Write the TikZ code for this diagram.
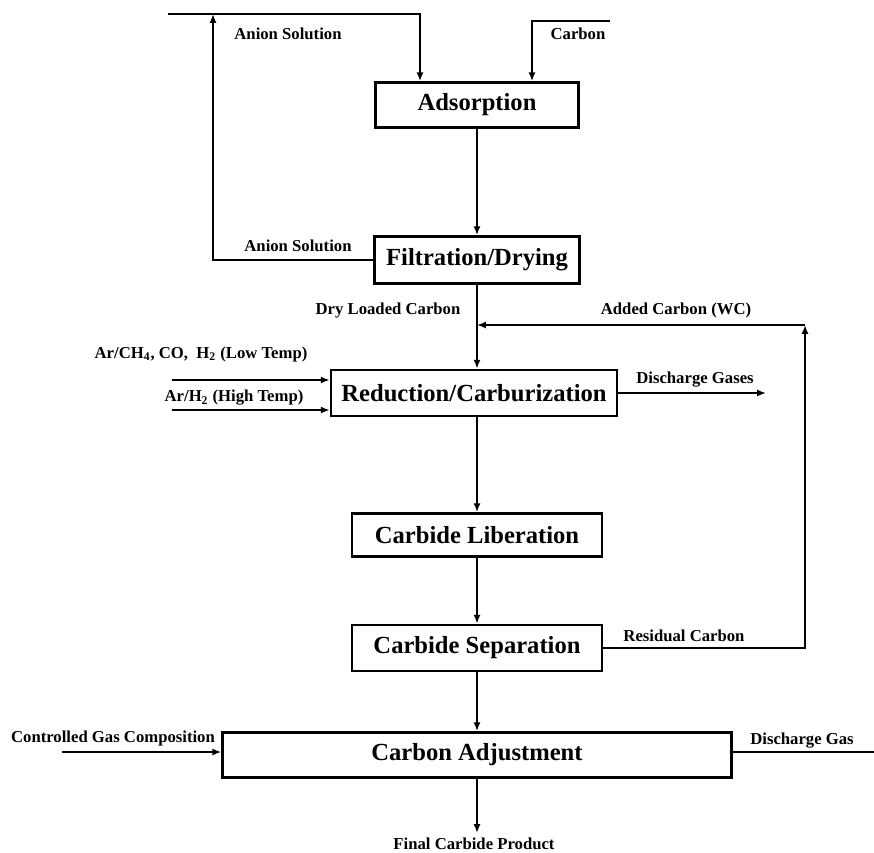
\documentclass[tikz,border=0pt]{standalone}
\usepackage{fontspec}
\setmainfont{Liberation Serif}
\usetikzlibrary{arrows.meta}

\tikzset{
  proc/.style={draw, line width=1.5pt, minimum height=0.9cm, inner sep=2pt,
    font=\bfseries\fontsize{14}{16}\selectfont},
  flow/.style={line width=1pt, -{Latex[length=5pt,width=4pt]}},
  pipe/.style={line width=1pt},
  tag/.style={font=\bfseries\fontsize{9.5}{11}\selectfont, inner sep=1pt},
}

\begin{document}
\begin{tikzpicture}[x=0.02cm, y=-0.02cm]
    \useasboundingbox (0,0) rectangle (874,852);

    % Process boxes
    \node[proc, minimum width=4.06cm] (ads) at (477,105) {Adsorption};
    \node[proc, minimum width=4.1cm, minimum height=0.94cm] (filt) at (477,260) {Filtration/Drying};
    \node[proc, minimum width=5.72cm, minimum height=0.92cm] (red) at (474,393) {Reduction/Carburization};
    \node[proc, minimum width=5cm, minimum height=0.86cm] (lib) at (477,535) {Carbide Liberation};
    \node[proc, minimum width=5cm, minimum height=0.92cm] (sep) at (477,648) {Carbide Separation};
    \node[proc, minimum width=10.18cm] (adj) at (477,755) {Carbon Adjustment};

    % Main line
    \draw[flow] (ads) -- (filt);
    \draw[flow] (filt) -- (filt |- red.north);
    \draw[flow] (filt |- red.south) -- (lib);
    \draw[flow] (lib) -- (sep);
    \draw[flow] (sep) -- (adj);

    % Feeds to adsorption
    \coordinate (anionIn) at (168,14);
    \coordinate (carbonIn) at (610,21);
    \draw[flow] (anionIn) -| ([xshift=-1.14cm]ads.north);
    \draw[flow] (carbonIn) -| ([xshift=1.1cm]ads.north);
    \node[tag] (anionTag) at (288,34) {Anion Solution};
    \node[tag] (carbonTag) at (578,34) {Carbon};

    % Anion solution recycle
    \coordinate (anionBack) at (213,14);
    \draw[flow] (filt.west) -| (anionBack);
    \node[tag] (anionTag2) at (298,246) {Anion Solution};
    \node[tag] (dryTag) at (388,311) {Dry Loaded Carbon};

    % Residual carbon back to the furnace
    \coordinate (loopTop) at (805,325);
    \coordinate (join) at (477,325);
    \draw[flow] (sep.east) -| (loopTop);
    \draw[flow] (loopTop) -- (join);
    \node[tag] (addTag) at (676,310) {Added Carbon (WC)};
    \node[tag] (resTag) at (684,636) {Residual Carbon};

    % Furnace gases
    \coordinate (gasLow) at (172,380);
    \coordinate (gasHigh) at (172,410);
    \coordinate (gasOut) at (766,393);
    \draw[flow] (gasLow) -- (gasLow -| red.west);
    \draw[flow] (gasHigh) -- (gasHigh -| red.west);
    \draw[flow] (red.east) -- (gasOut);
    \node[tag] (lowTag) at (201,354) {Ar/CH\textsubscript{4}, CO, \ H\textsubscript{2} (Low Temp)};
    \node[tag] (highTag) at (234,398) {Ar/H\textsubscript{2} (High Temp)};
    \node[tag] (disTag) at (695,380) {Discharge Gases};

    % Carbon adjustment in/out
    \coordinate (ctrlIn) at (62,752);
    \coordinate (disOut) at (874,752);
    \coordinate (final) at (477,833);
    \draw[flow] (ctrlIn) -- (ctrlIn -| adj.west);
    \draw[pipe] (disOut -| adj.east) -- (disOut);
    \draw[flow] (adj) -- (final);
    \node[tag] (ctrlTag) at (113,738) {Controlled Gas Composition};
    \node[tag] (dgTag) at (802,741) {Discharge Gas};
    \node[tag] (finTag) at (474,844) {Final Carbide Product};
\end{tikzpicture}
\end{document}
